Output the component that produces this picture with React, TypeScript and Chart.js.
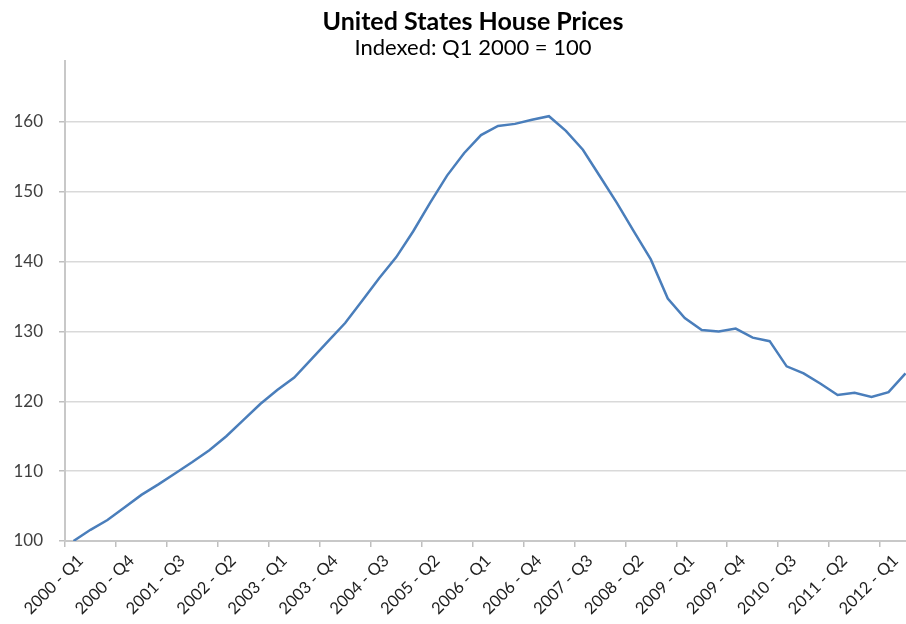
import React, { useEffect, useRef } from "react";
import { Chart, registerables } from "chart.js";

Chart.register(...registerables);

const quarters: string[] = [
  "2000 - Q1", "2000 - Q2", "2000 - Q3", "2000 - Q4",
  "2001 - Q1", "2001 - Q2", "2001 - Q3", "2001 - Q4",
  "2002 - Q1", "2002 - Q2", "2002 - Q3", "2002 - Q4",
  "2003 - Q1", "2003 - Q2", "2003 - Q3", "2003 - Q4",
  "2004 - Q1", "2004 - Q2", "2004 - Q3", "2004 - Q4",
  "2005 - Q1", "2005 - Q2", "2005 - Q3", "2005 - Q4",
  "2006 - Q1", "2006 - Q2", "2006 - Q3", "2006 - Q4",
  "2007 - Q1", "2007 - Q2", "2007 - Q3", "2007 - Q4",
  "2008 - Q1", "2008 - Q2", "2008 - Q3", "2008 - Q4",
  "2009 - Q1", "2009 - Q2", "2009 - Q3", "2009 - Q4",
  "2010 - Q1", "2010 - Q2", "2010 - Q3", "2010 - Q4",
  "2011 - Q1", "2011 - Q2", "2011 - Q3", "2011 - Q4",
  "2012 - Q1", "2012 - Q2",
];

const houseIndex: number[] = [
  100.0, 101.6, 103.0, 104.8,
  106.6, 108.1, 109.7, 111.3,
  113.0, 115.0, 117.3, 119.6,
  121.6, 123.4, 126.0, 128.6,
  131.2, 134.4, 137.6, 140.6,
  144.3, 148.4, 152.3, 155.5,
  158.1, 159.4, 159.7, 160.3,
  160.8, 158.7, 156.0, 152.2,
  148.4, 144.3, 140.3, 134.7,
  131.9, 130.2, 130.0, 130.4,
  129.1, 128.6, 125.0, 124.0,
  122.5, 120.9, 121.2, 120.6,
  121.3, 124.0,
];

const titleText = "United States House Prices";
const subtitleText = "Indexed: Q1 2000 = 100";
const yMin = 100;
const yMax = 168.7;
const yStep = 10;
const labelEvery = 3;

const FONT = "Lato, 'Open Sans', sans-serif";

export default function App() {
  const ref = useRef<HTMLCanvasElement | null>(null);

  useEffect(() => {
    if (!ref.current) return;
    const chart = new Chart(ref.current, {
      type: "line",
      data: {
        labels: quarters,
        datasets: [
          {
            data: houseIndex,
            borderColor: "#4a7ebb",
            borderWidth: 2.5,
            pointRadius: 0,
            tension: 0,
            fill: false,
            yAxisID: "y",
          },
        ],
      },
      options: {
        animation: false,
        responsive: false,
        devicePixelRatio: 1,
        layout: { padding: 0 },
        plugins: {
          legend: { display: false },
          tooltip: { enabled: false },
          title: {
            display: true,
            text: titleText,
            color: "#000000",
            font: { family: FONT, size: 25, weight: "bold", lineHeight: 1.0 },
            padding: { top: 9, bottom: 2 },
          },
          subtitle: {
            display: true,
            text: subtitleText,
            color: "#000000",
            font: { family: FONT, size: 22, weight: "normal", lineHeight: 1.0 },
            padding: { top: 1, bottom: 2 },
          },
        },
        scales: {
          x: {
            type: "category",
            offset: true,
            afterFit: (s: any) => {
              s.height = 83;
            },
            border: { display: true, color: "#c8c8c8", width: 2 },
            grid: {
              offset: true,
              drawOnChartArea: false,
              drawTicks: true,
              tickLength: 6,
              color: (ctx: any) => (ctx.index % labelEvery === 0 ? "#bfbfbf" : "rgba(0,0,0,0)"),
              tickColor: (ctx: any) => (ctx.index % labelEvery === 0 ? "#bfbfbf" : "rgba(0,0,0,0)"),
              lineWidth: 1.5,
            },
            ticks: {
              autoSkip: false,
              maxRotation: 45,
              minRotation: 45,
              padding: 4,
              labelOffset: 7,
              color: "#1e1e1e",
              font: { family: FONT, size: 16.5 },
              callback: (_v: any, i: number) => (i % labelEvery === 0 ? quarters[i] : ""),
            },
          },
          y: {
            type: "linear",
            position: "left",
            min: yMin,
            max: yMax,
            afterFit: (s: any) => {
              s.width = 65;
            },
            border: { display: true, color: "#c8c8c8", width: 2 },
            grid: {
              color: "#d9d9d9",
              lineWidth: 1.5,
              drawTicks: true,
              tickLength: 6,
              tickColor: "#bfbfbf",
            },
            ticks: {
              stepSize: yStep,
              includeBounds: false,
              padding: 16,
              color: "#404040",
              font: { family: FONT, size: 17 },
            },
          },
          yRightSpace: {
            type: "linear",
            position: "right",
            min: yMin,
            max: yMax,
            afterFit: (s: any) => {
              s.width = 32;
            },
            border: { display: false },
            grid: { display: false },
            ticks: { display: false },
          },
        },
      },
    });
    return () => chart.destroy();
  }, []);

  return (
    <div
      style={{
        position: "absolute",
        left: 0,
        top: 0,
        width: 906,
        height: 624,
        overflow: "hidden",
        background: "#ffffff",
      }}
    >
      <canvas ref={ref} width={946} height={624} style={{ display: "block", width: 946, height: 624 }} />
    </div>
  );
}
